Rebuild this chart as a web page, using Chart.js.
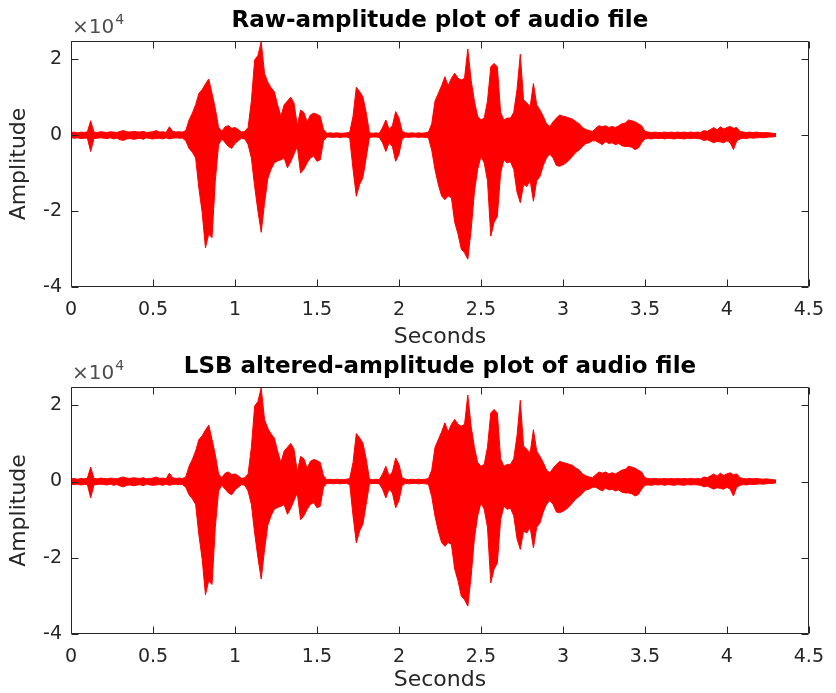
<!DOCTYPE html>
<html>
<head>
<meta charset="utf-8">
<script src="https://cdn.jsdelivr.net/npm/chart.js@4.4.1/dist/chart.umd.min.js"></script>
<style>
  body { margin: 0; background: #fff; }
  #wrap { position: relative; width: 836px; height: 693px; }
  canvas { position: absolute; left: 0; }
</style>
</head>
<body>
<div id="wrap">
  <canvas id="raw" width="836" height="350" style="top:0"></canvas>
  <canvas id="lsb" width="836" height="347" style="top:346px"></canvas>
</div>
<script>
// time axis (seconds), one envelope sample every 0.02 s
const seconds = [
  0.00, 0.02, 0.04, 0.06, 0.08, 0.10, 0.12, 0.14, 0.16, 0.18,
  0.20, 0.22, 0.24, 0.26, 0.28, 0.30, 0.32, 0.34, 0.36, 0.38,
  0.40, 0.42, 0.44, 0.46, 0.48, 0.50, 0.52, 0.54, 0.56, 0.58,
  0.60, 0.62, 0.64, 0.66, 0.68, 0.70, 0.72, 0.74, 0.76, 0.78,
  0.80, 0.82, 0.84, 0.86, 0.88, 0.90, 0.92, 0.94, 0.96, 0.98,
  1.00, 1.02, 1.04, 1.06, 1.08, 1.10, 1.12, 1.14, 1.16, 1.18,
  1.20, 1.22, 1.24, 1.26, 1.28, 1.30, 1.32, 1.34, 1.36, 1.38,
  1.40, 1.42, 1.44, 1.46, 1.48, 1.50, 1.52, 1.54, 1.56, 1.58,
  1.60, 1.62, 1.64, 1.66, 1.68, 1.70, 1.72, 1.74, 1.76, 1.78,
  1.80, 1.82, 1.84, 1.86, 1.88, 1.90, 1.92, 1.94, 1.96, 1.98,
  2.00, 2.02, 2.04, 2.06, 2.08, 2.10, 2.12, 2.14, 2.16, 2.18,
  2.20, 2.22, 2.24, 2.26, 2.28, 2.30, 2.32, 2.34, 2.36, 2.38,
  2.40, 2.42, 2.44, 2.46, 2.48, 2.50, 2.52, 2.54, 2.56, 2.58,
  2.60, 2.62, 2.64, 2.66, 2.68, 2.70, 2.72, 2.74, 2.76, 2.78,
  2.80, 2.82, 2.84, 2.86, 2.88, 2.90, 2.92, 2.94, 2.96, 2.98,
  3.00, 3.02, 3.04, 3.06, 3.08, 3.10, 3.12, 3.14, 3.16, 3.18,
  3.20, 3.22, 3.24, 3.26, 3.28, 3.30, 3.32, 3.34, 3.36, 3.38,
  3.40, 3.42, 3.44, 3.46, 3.48, 3.50, 3.52, 3.54, 3.56, 3.58,
  3.60, 3.62, 3.64, 3.66, 3.68, 3.70, 3.72, 3.74, 3.76, 3.78,
  3.80, 3.82, 3.84, 3.86, 3.88, 3.90, 3.92, 3.94, 3.96, 3.98,
  4.00, 4.02, 4.04, 4.06, 4.08, 4.10, 4.12, 4.14, 4.16, 4.18,
  4.20, 4.22, 4.24, 4.26, 4.28, 4.30
];

// waveform envelope, amplitude in units of 1e4
const rawUpper = [
  0.07, 0.08, 0.06, 0.08, 0.07, 0.09, 0.38, 0.08, 0.07, 0.09,
  0.08, 0.07, 0.09, 0.08, 0.07, 0.10, 0.12, 0.09, 0.08, 0.10,
  0.09, 0.08, 0.10, 0.07, 0.08, 0.09, 0.12, 0.08, 0.09, 0.07,
  0.22, 0.10, 0.08, 0.09, 0.08, 0.12, 0.40, 0.58, 0.80, 1.10,
  1.20, 1.35, 1.48, 1.10, 0.70, 0.20, 0.10, 0.22, 0.25, 0.18,
  0.20, 0.15, 0.08, 0.10, 0.20, 0.90, 1.98, 2.10, 2.46, 1.63,
  1.40, 1.25, 1.14, 0.80, 0.50, 0.80, 0.90, 1.00, 0.85, 0.25,
  0.66, 0.60, 0.35, 0.53, 0.58, 0.55, 0.50, 0.15, 0.05, 0.06,
  0.05, 0.06, 0.05, 0.05, 0.06, 0.08, 0.50, 1.26, 1.15, 1.01,
  0.60, 0.06, 0.05, 0.06, 0.05, 0.20, 0.40, 0.15, 0.25, 0.62,
  0.45, 0.10, 0.06, 0.05, 0.06, 0.05, 0.06, 0.05, 0.06, 0.08,
  0.30, 0.90, 1.10, 1.30, 1.54, 1.30, 1.50, 1.63, 1.50, 1.45,
  1.50, 2.27, 1.45, 0.90, 0.50, 0.40, 0.45, 0.90, 1.80, 1.89,
  1.80, 0.60, 0.40, 0.45, 0.45, 0.60, 1.20, 2.13, 0.93, 0.85,
  0.75, 1.36, 0.80, 0.66, 0.50, 0.30, 0.23, 0.35, 0.45, 0.53,
  0.50, 0.48, 0.45, 0.42, 0.35, 0.30, 0.20, 0.15, 0.12, 0.10,
  0.18, 0.25, 0.22, 0.25, 0.20, 0.23, 0.20, 0.25, 0.30, 0.32,
  0.40, 0.38, 0.35, 0.30, 0.25, 0.10, 0.08, 0.07, 0.08, 0.07,
  0.07, 0.08, 0.07, 0.08, 0.07, 0.08, 0.07, 0.08, 0.07, 0.08,
  0.07, 0.08, 0.07, 0.12, 0.10, 0.15, 0.20, 0.14, 0.22, 0.16,
  0.20, 0.23, 0.18, 0.20, 0.10, 0.08, 0.07, 0.08, 0.07, 0.08,
  0.07, 0.06, 0.07, 0.06, 0.05, 0.04
];
const rawLower = [
  -0.07, -0.08, -0.07, -0.09, -0.08, -0.08, -0.43, -0.09, -0.08, -0.07,
  -0.08, -0.09, -0.07, -0.10, -0.08, -0.12, -0.14, -0.10, -0.09, -0.11,
  -0.10, -0.08, -0.11, -0.07, -0.09, -0.10, -0.09, -0.08, -0.10, -0.07,
  -0.10, -0.08, -0.07, -0.08, -0.08, -0.15, -0.35, -0.45, -0.60, -1.40,
  -2.04, -2.97, -2.60, -2.70, -1.20, -0.25, -0.10, -0.20, -0.30, -0.35,
  -0.22, -0.15, -0.08, -0.10, -0.25, -0.60, -1.35, -2.00, -2.56, -1.80,
  -1.15, -0.90, -0.73, -0.68, -0.65, -0.60, -0.86, -0.70, -0.50, -0.30,
  -1.00, -0.90, -0.73, -0.60, -0.55, -0.69, -0.65, -0.15, -0.05, -0.05,
  -0.06, -0.05, -0.06, -0.05, -0.05, -0.08, -0.90, -1.61, -1.30, -1.12,
  -0.60, -0.06, -0.05, -0.05, -0.06, -0.20, -0.43, -0.20, -0.30, -0.69,
  -0.50, -0.10, -0.05, -0.06, -0.05, -0.05, -0.06, -0.05, -0.06, -0.07,
  -0.40, -0.91, -1.30, -1.60, -1.70, -1.60, -1.65, -2.30, -2.60, -3.00,
  -3.10, -3.27, -2.50, -1.50, -0.90, -0.56, -0.73, -1.20, -2.66, -2.30,
  -2.14, -1.00, -0.65, -0.73, -0.70, -0.90, -1.50, -1.78, -1.30, -1.35,
  -1.20, -1.74, -1.20, -1.09, -0.80, -0.60, -0.50, -0.60, -0.80, -0.82,
  -0.78, -0.73, -0.65, -0.55, -0.45, -0.39, -0.30, -0.22, -0.20, -0.15,
  -0.15, -0.20, -0.25, -0.17, -0.22, -0.20, -0.25, -0.22, -0.28, -0.30,
  -0.30, -0.32, -0.38, -0.34, -0.20, -0.10, -0.09, -0.10, -0.08, -0.09,
  -0.08, -0.10, -0.08, -0.09, -0.10, -0.08, -0.09, -0.10, -0.08, -0.09,
  -0.08, -0.09, -0.10, -0.14, -0.12, -0.16, -0.20, -0.16, -0.18, -0.20,
  -0.15, -0.20, -0.38, -0.15, -0.10, -0.08, -0.09, -0.07, -0.08, -0.07,
  -0.06, -0.07, -0.06, -0.05, -0.05, -0.03
];
// LSB change is far below what the plot can show, so the envelope is the same
const lsbUpper = rawUpper.slice();
const lsbLower = rawLower.slice();

const xTicks = [0, 0.5, 1, 1.5, 2, 2.5, 3, 3.5, 4, 4.5];
const yTicks = [-4, -2, 0, 2];

const FONT = 'DejaVu Sans';
const INK = '#262626';

// MATLAB style box with inward ticks and the x10^4 exponent
const matlabAxes = {
  id: 'matlabAxes',
  afterDatasetsDraw(chart) {
    const { ctx, chartArea: a, scales } = chart;
    const L = Math.round(a.left) + 0.5, R = Math.round(a.right) - 0.5;
    const T = Math.round(a.top) + 0.5, B = Math.round(a.bottom) - 0.5;
    ctx.save();
    ctx.strokeStyle = INK;
    ctx.lineWidth = 1;
    ctx.beginPath();
    ctx.rect(L, T, R - L, B - T);
    xTicks.forEach(v => {
      const px = Math.round(scales.x.getPixelForValue(v)) + 0.5;
      ctx.moveTo(px, B); ctx.lineTo(px, B - 7);
      ctx.moveTo(px, T); ctx.lineTo(px, T + 7);
    });
    yTicks.forEach(v => {
      const py = Math.round(scales.y.getPixelForValue(v)) + 0.5;
      ctx.moveTo(L, py); ctx.lineTo(L + 7, py);
      ctx.moveTo(R, py); ctx.lineTo(R - 7, py);
    });
    ctx.stroke();

    ctx.fillStyle = '#4d4d4d';
    ctx.textBaseline = 'alphabetic';
    ctx.textAlign = 'left';
    ctx.font = `20px ${FONT}`;
    ctx.fillText('\u00d710', a.left + 1, a.top - 8);
    const w = ctx.measureText('\u00d710').width;
    ctx.font = `14px ${FONT}`;
    ctx.fillText('4', a.left + 2 + w, a.top - 17);
    ctx.restore();
  }
};

function makeChart(id, title, upper, lower, axisHeight) {
  const ctx = document.getElementById(id).getContext('2d');
  return new Chart(ctx, {
    type: 'line',
    data: {
      labels: seconds,
      datasets: [
        {
          data: upper,
          borderColor: '#ff0000',
          backgroundColor: '#ff0000',
          borderWidth: 1,
          pointRadius: 0,
          tension: 0,
          fill: '+1'
        },
        {
          data: lower,
          borderColor: '#ff0000',
          backgroundColor: '#ff0000',
          borderWidth: 1,
          pointRadius: 0,
          tension: 0,
          fill: false
        }
      ]
    },
    options: {
      responsive: false,
      animation: false,
      devicePixelRatio: 1,
      layout: { padding: { left: 0, right: 20, top: 0, bottom: 0 } },
      plugins: {
        legend: { display: false },
        tooltip: { enabled: false },
        title: {
          display: true,
          text: title,
          fullSize: false,
          color: '#000',
          font: { family: FONT, size: 23, weight: 'bold' },
          padding: { top: 7, bottom: 6.4 }
        }
      },
      scales: {
        x: {
          type: 'linear',
          min: 0,
          max: 4.5,
          afterBuildTicks: s => { s.ticks = xTicks.map(v => ({ value: v })); },
          afterFit: s => { s.height = axisHeight; },
          grid: { display: false, drawTicks: false },
          border: { display: false },
          ticks: {
            color: INK, padding: 12, maxRotation: 0, autoSkip: false,
            font: { family: FONT, size: 19 },
            callback: v => String(v)
          },
          title: {
            display: true, text: 'Seconds', color: INK,
            font: { family: FONT, size: 22 }, padding: 0
          }
        },
        y: {
          min: -4,
          max: 2.48,
          afterBuildTicks: s => { s.ticks = yTicks.map(v => ({ value: v })); },
          afterFit: s => { s.width = 71; },
          grid: { display: false, drawTicks: false },
          border: { display: false },
          ticks: {
            color: INK, padding: 9,
            font: { family: FONT, size: 19 },
            callback: v => String(v)
          },
          title: {
            display: true, text: 'Amplitude', color: INK,
            font: { family: FONT, size: 22 }, padding: { top: 6, bottom: 0 }
          }
        }
      }
    },
    plugins: [matlabAxes]
  });
}

makeChart('raw', 'Raw-amplitude plot of audio file', rawUpper, rawLower, 63);
makeChart('lsb', 'LSB altered-amplitude plot of audio file', lsbUpper, lsbLower, 59);
</script>
</body>
</html>
